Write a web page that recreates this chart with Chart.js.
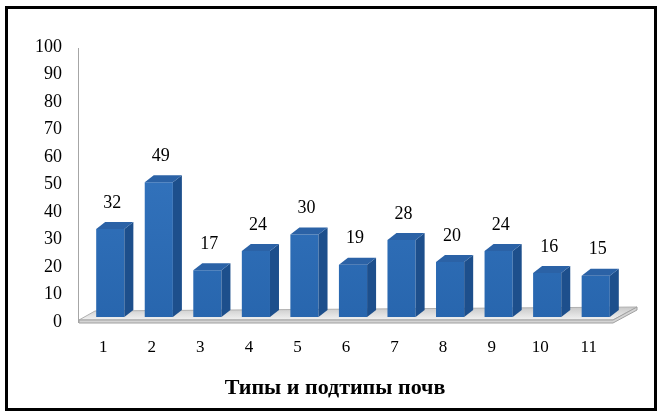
<!DOCTYPE html>
<html><head><meta charset="utf-8">
<script src="https://cdn.jsdelivr.net/npm/chart.js@4.4.1/dist/chart.umd.min.js"></script>
<style>
html,body{margin:0;padding:0;background:#fff;}
#wrap{position:relative;width:661px;height:414px;}
#frame{position:absolute;left:5px;top:6px;width:646px;height:399px;border:3px solid #000;pointer-events:none;}
canvas{position:absolute;left:0;top:0;}
</style></head>
<body>
<div id="wrap"><canvas id="c" width="661" height="414"></canvas><div id="frame"></div></div>
<script>
const categories = ['1','2','3','4','5','6','7','8','9','10','11'];
const values = [32, 49, 17, 24, 30, 19, 28, 20, 24, 16, 15];
const yTicks = [0,10,20,30,40,50,60,70,80,90,100];
const xTitle = 'Типы и подтипы почв';

const SERIF = '"Liberation Serif","Times New Roman",serif';
const DX = 9, DY = 7;

const threeD = {
  id: 'threeD',
  beforeDatasetsDraw(chart) {
    const ctx = chart.ctx, a = chart.chartArea;
    const base = chart.scales.y.getPixelForValue(0);
    ctx.save();
    ctx.strokeStyle = '#a6a6a6'; ctx.lineWidth = 1;
    ctx.beginPath(); ctx.moveTo(a.left - 7.5, chart.scales.y.getPixelForValue(100) + 6); ctx.lineTo(a.left - 7.5, base + 6); ctx.stroke();
    const fl = a.left - 7, fr = a.right - 7;
    const pts = [[fl, base + 3], [fr, base + 3], [a.right + 17, base - 10], [a.left + 9, base - 6]];
    const g = ctx.createLinearGradient(0, base - 10, 0, base + 3);
    g.addColorStop(0, '#c8c8c8'); g.addColorStop(1, '#f2f2f2');
    ctx.fillStyle = g;
    ctx.beginPath(); pts.forEach((p, i) => i ? ctx.lineTo(p[0], p[1]) : ctx.moveTo(p[0], p[1])); ctx.closePath(); ctx.fill();
    ctx.strokeStyle = '#b0b0b0'; ctx.stroke();
    ctx.fillStyle = '#d4d4d4';
    ctx.beginPath(); ctx.moveTo(fl, base + 3); ctx.lineTo(fr, base + 3); ctx.lineTo(a.right + 17, base - 10); ctx.lineTo(a.right + 17, base - 7); ctx.lineTo(fr, base + 6); ctx.lineTo(fl, base + 6); ctx.closePath(); ctx.fill();
    ctx.strokeStyle = '#a0a0a0'; ctx.stroke();
    ctx.restore();
  },
  afterDatasetsDraw(chart) {
    const ctx = chart.ctx;
    const meta = chart.getDatasetMeta(0);
    ctx.save();
    meta.data.forEach((bar, i) => {
      const p = bar.getProps(['x', 'y', 'base', 'width'], true);
      const l = p.x - p.width / 2, r = p.x + p.width / 2;
      ctx.fillStyle = '#1d4f8c';
      ctx.beginPath(); ctx.moveTo(r, p.y); ctx.lineTo(r + DX, p.y - DY); ctx.lineTo(r + DX, p.base - DY); ctx.lineTo(r, p.base); ctx.closePath(); ctx.fill();
      ctx.fillStyle = '#2b62a6';
      ctx.beginPath(); ctx.moveTo(l, p.y); ctx.lineTo(r, p.y); ctx.lineTo(r + DX, p.y - DY); ctx.lineTo(l + DX, p.y - DY); ctx.closePath(); ctx.fill();
      ctx.fillStyle = '#000';
      ctx.font = '18px ' + SERIF;
      ctx.textAlign = 'center'; ctx.textBaseline = 'middle';
      ctx.fillText(String(values[i]), p.x + 2, p.y - 26);
    });
    ctx.restore();
  },
  afterDraw(chart) {
    const ctx = chart.ctx;
    ctx.save();
    ctx.fillStyle = '#000';
    ctx.font = 'bold 22px ' + SERIF;
    ctx.textAlign = 'center'; ctx.textBaseline = 'middle';
    ctx.fillText(xTitle, 335, 388);
    ctx.restore();
  }
};

const ctx = document.getElementById('c').getContext('2d');
const grad = ctx.createLinearGradient(0, 40, 0, 317);
grad.addColorStop(0, '#3b7dc8'); grad.addColorStop(1, '#2866ae');

new Chart(ctx, {
  type: 'bar',
  data: { labels: categories, datasets: [{ data: values, backgroundColor: grad, borderWidth: 0, categoryPercentage: 1, barPercentage: 0.58 }] },
  options: {
    responsive: false, animation: false,
    layout: { padding: { left: 0, right: 41, top: 42, bottom: 0 } },
    plugins: { legend: { display: false }, tooltip: { enabled: false } },
    scales: {
      y: {
        min: 0, max: 100,
        afterBuildTicks(s) { s.ticks = yTicks.map(v => ({ value: v })); },
        afterFit(s) { s.width = 86; },
        grid: { display: false, drawTicks: false }, border: { display: false },
        ticks: { color: '#000', font: { family: SERIF, size: 18 }, padding: 24, labelOffset: 5 }
      },
      x: {
        afterFit(s) { s.height = 97; },
        grid: { display: false, drawTicks: false }, border: { display: false },
        ticks: { color: '#000', font: { family: SERIF, size: 17 }, padding: 20, labelOffset: -7, maxRotation: 0 }
      }
    }
  },
  plugins: [threeD]
});
</script>
</body></html>
